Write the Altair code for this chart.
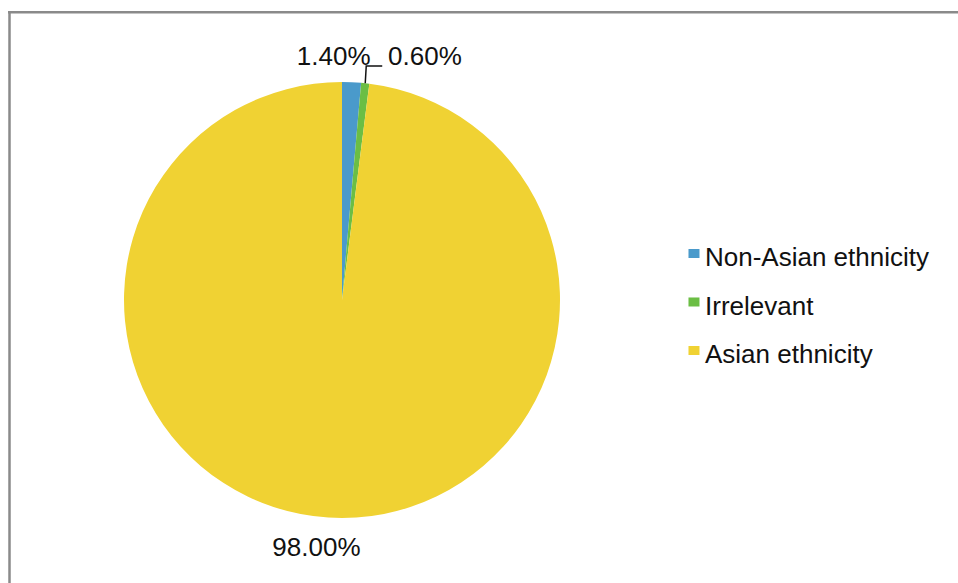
import math
import altair as alt
import pandas as pd

categories = ["Non-Asian ethnicity", "Irrelevant", "Asian ethnicity"]
values = [1.4, 0.6, 98.0]
labels = ["1.40%", "0.60%", "98.00%"]
colors = ["#4A9ACB", "#6BBE44", "#F0D233"]
orders = [0, 1, 2]

W, H = 958, 583
CX, CY, R = 342, 300, 218
FONT = "Liberation Sans"
FS = 26
TXT = "#111111"
BORDER = "#8a8a8a"

df = pd.DataFrame({"category": categories, "value": values, "label": labels, "order": orders})
one = pd.DataFrame({"a": [0]})

color_scale = alt.Scale(domain=categories, range=colors)

pie = alt.Chart(df).mark_arc(radius=R).encode(
    theta=alt.Theta("value:Q", stack=True),
    color=alt.Color(
        "category:N",
        scale=color_scale,
        sort=categories,
        legend=alt.Legend(
            orient="none", legendX=679, legendY=245, title=None,
            symbolType="M-0.64,-1.64H1.36V0H-0.64Z", symbolSize=121, symbolStrokeWidth=0,
            labelFontSize=FS, labelFont=FONT, labelColor=TXT, labelLimit=0,
            rowPadding=22.5, labelOffset=0,
        ),
    ),
    order=alt.Order("order:Q"),
    x=alt.value(CX),
    y=alt.value(CY),
)


def label_layer(cat, radius, dx, dy):
    return (
        alt.Chart(df)
        .transform_window(cum="sum(value)", frame=[None, 0], sort=[alt.SortField("order")])
        .transform_joinaggregate(total="sum(value)")
        .transform_calculate(mid="(datum.cum - datum.value/2) / datum.total * 2 * PI")
        .transform_calculate(
            px=f"{CX} + {radius} * sin(datum.mid)",
            py=f"{CY} - {radius} * cos(datum.mid)",
        )
        .transform_filter(alt.datum.category == cat)
        .mark_text(fontSize=FS, font=FONT, color=TXT, dx=dx, dy=dy, align="center", baseline="middle")
        .encode(
            x=alt.X("px:Q", scale=None),
            y=alt.Y("py:Q", scale=None),
            text="label:N",
        )
    )


lab1 = label_layer(categories[0], 243, -19, 0)
lab2 = label_layer(categories[1], 243, 57, -1)
lab3 = label_layer(categories[2], 248, -10, 0)

# leader line for the small green slice, derived from the data
total = sum(values)
mid_g = (values[0] + values[1] / 2) / total * 2 * math.pi
x0 = CX + R * math.sin(mid_g)
y0 = CY - R * math.cos(mid_g)
leader_df = pd.DataFrame({"px": [x0, x0 + 1, x0 + 17], "py": [y0, 66, 66], "k": [0, 1, 2]})
leader = alt.Chart(leader_df).mark_line(color="#111111", strokeWidth=1.5).encode(
    x=alt.X("px:Q", scale=None), y=alt.Y("py:Q", scale=None), order="k:Q"
)

border_top = alt.Chart(one).mark_rule(color=BORDER, strokeWidth=2.5).encode(
    x=alt.value(8), x2=alt.value(W), y=alt.value(12.3)
)
border_left = alt.Chart(one).mark_rule(color=BORDER, strokeWidth=2.5).encode(
    x=alt.value(9.5), y=alt.value(11), y2=alt.value(H)
)

chart = (
    alt.layer(border_top, border_left, pie, leader, lab1, lab2, lab3)
    .properties(width=W, height=H, padding=0, autosize="none", background="white")
    .configure_view(stroke=None)
)

chart.save("out.html", embed_options={"renderer": "svg", "actions": False})
